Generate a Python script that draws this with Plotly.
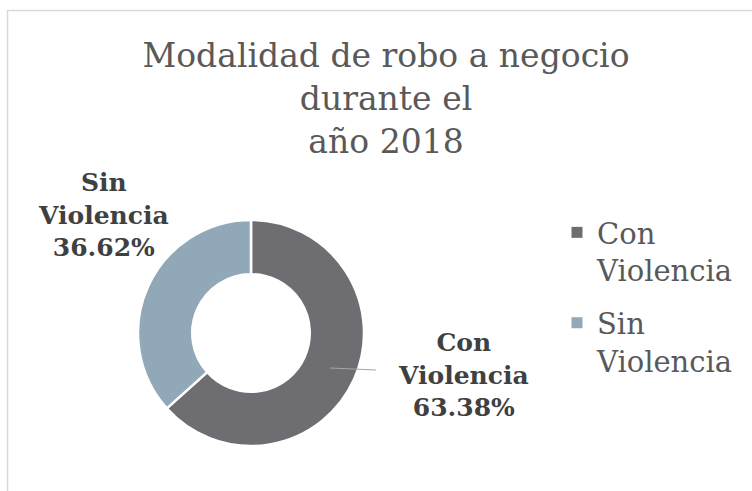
import plotly.graph_objects as go

title_lines = ["Modalidad de robo a negocio", "durante el", "año 2018"]
categories = ["Con Violencia", "Sin Violencia"]
label_lines = [["Con", "Violencia"], ["Sin", "Violencia"]]
values = [63.38, 36.62]
colors = ["#6e6d72", "#90a8b8"]

W, H = 752, 491
FONT = "DejaVu Serif"

def px(x):
    return x / W

def py(y):
    return 1 - y / H

fig = go.Figure()
fig.add_trace(go.Pie(
    labels=categories,
    values=values,
    hole=0.52,
    sort=False,
    direction="clockwise",
    rotation=0,
    marker=dict(colors=colors, line=dict(color="white", width=2.5)),
    textinfo="none",
    hoverinfo="label+percent",
    domain=dict(x=[px(138), px(364)], y=[py(446), py(220)]),
    showlegend=False,
))

# legend entries (one group per category so a gap can separate them)
for i, (lines, c) in enumerate(zip(label_lines, colors)):
    fig.add_trace(go.Scatter(
        x=[None], y=[None], mode="markers",
        marker=dict(symbol="square", size=11, color=c),
        name="<br>".join(lines), legendgroup=f"g{i}", showlegend=True,
        hoverinfo="skip",
    ))

label_pos = [(463, 375), (103, 215)]
annotations = []
for lines, v, (lx, ly) in zip(label_lines, values, label_pos):
    annotations.append(dict(
        text="<b>" + "<br>".join(lines + [f"{v:.2f}%"]) + "</b>",
        x=px(lx), y=py(ly), xref="paper", yref="paper",
        xanchor="center", yanchor="middle", showarrow=False, align="center",
        font=dict(family=FONT, size=25, color="#404040"),
    ))

fig.update_layout(
    width=W, height=H,
    margin=dict(l=0, r=0, t=0, b=0),
    paper_bgcolor="white",
    plot_bgcolor="rgba(0,0,0,0)",
    font=dict(family=FONT, color="#595959"),
    xaxis=dict(visible=False),
    yaxis=dict(visible=False),
    title=dict(
        text="<br>".join(title_lines),
        x=px(386), xanchor="center",
        y=py(67), yanchor="top",
        font=dict(family=FONT, size=33, color="#595959"),
    ),
    showlegend=True,
    legend=dict(
        x=px(557), xanchor="left",
        y=py(207), yanchor="top",
        font=dict(family=FONT, size=29, color="#595959"),
        bgcolor="rgba(0,0,0,0)",
        tracegroupgap=12,
        valign="top",
        itemclick=False, itemdoubleclick=False,
    ),
    annotations=annotations,
    shapes=[
        dict(type="rect", xref="paper", yref="paper",
             x0=px(7.5), x1=1.05, y0=-0.05, y1=py(10.5),
             line=dict(color="#d9d9d9", width=1.5),
             fillcolor="rgba(0,0,0,0)", layer="below"),
        dict(type="line", xref="paper", yref="paper",
             x0=px(330), y0=py(368), x1=px(376), y1=py(370),
             line=dict(color="#a6a6a6", width=1.2)),
    ],
)

fig.write_html("out.html", config={"displayModeBar": False},
               post_script="document.body.style.margin='0';")
